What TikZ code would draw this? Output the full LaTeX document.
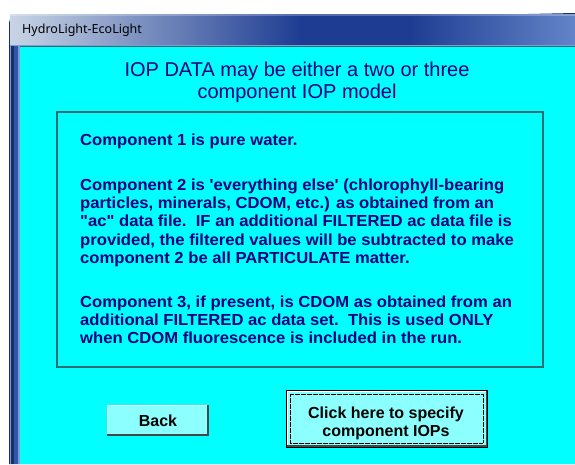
\documentclass[tikz,border=0pt]{standalone}
\usepackage{fontspec}
\setmainfont{Liberation Sans}
\newfontfamily\uifont{Noto Sans}
\newfontfamily\dlgfont[FakeStretch=1.04]{Liberation Sans}
\newcommand{\sq}{\symbol{39}}
\newcommand{\dq}{\symbol{34}}
\definecolor{clientcyan}{HTML}{00FFFF}
\definecolor{navytext}{HTML}{000080}
\definecolor{boxline}{HTML}{2E6E70}
\definecolor{btnfill}{HTML}{8CFFFF}
\definecolor{btnshadow}{HTML}{404848}
\definecolor{framedark}{HTML}{1A2F6A}
\definecolor{framemid}{HTML}{2F56A8}
\definecolor{framelight}{HTML}{7E9CD6}
\definecolor{titlelight}{HTML}{C9D5E6}
\definecolor{titledark}{HTML}{1E3D92}
\definecolor{titleright}{HTML}{6384C8}
\tikzset{
  heading/.style={font=\fontsize{20}{24}\selectfont, text=navytext, anchor=base, inner sep=0pt},
  bodyline/.style={font=\dlgfont\bfseries\fontsize{16}{19}\selectfont, text=navytext, anchor=base west, inner sep=0pt},
  btnlabel/.style={font=\bfseries\fontsize{16}{19}\selectfont, text=black, anchor=base, inner sep=0pt},
}
\begin{document}
\begin{tikzpicture}[x=1pt,y=-1pt]
\useasboundingbox (0,0) rectangle (575,464);
\fill[white] (0,0) rectangle (575,464);

% window frame with rounded top-left corner
\fill[framedark] (9,464) -- (9,19) arc[start angle=180,end angle=90,radius=6] -- (575,13) -- (575,464) -- cycle;
% title bar glass gradient
\shade[left color=titlelight, right color=titledark] (10,14) rectangle (300,46);
\fill[titledark] (299.5,14) rectangle (410.5,46);
\shade[left color=titledark, right color=titleright] (410,14) rectangle (575,46);
\fill[white,opacity=0.25] (10,14) rectangle (575,15.5);
\fill[framelight] (10,44.5) rectangle (575,46);
% left border stripes
\fill[framelight] (10,46) rectangle (11,464);
\fill[framedark] (11,46) rectangle (14,464);
\fill[framemid] (14,46) rectangle (18,464);
\fill[framelight] (18,46) rectangle (20,464);
% client area
\fill[clientcyan] (20,47) rectangle (575,464);
\draw[boxline,line width=0.8pt] (20,46.6) -- (575,46.6);

\node[font=\uifont\fontsize{12.5}{14}\selectfont, text=black, anchor=base west, inner sep=0pt] (wintitle) at (22,33.5) {HydroLight-EcoLight};

% heading
\node[heading] (head1) at (297,76) {IOP DATA may be either a two or three};
\node[heading] (head2) at (297,98) {component IOP model};

% framed explanation
\draw[boxline,line width=1.3pt] (57,112) rectangle (543,367);
\node[bodyline] (c1a) at (80,145) {Component 1 is pure water.};
\node[bodyline] (c2a) at (80,190.5) {Component 2 is \sq everything else\sq{} (chlorophyll-bearing};
\node[bodyline] (c2b) at (80,208.7) {particles, minerals, CDOM, etc.) as obtained from an};
\node[bodyline] (c2c) at (80,226.9) {\dq ac\dq{} data file.\ \ IF an additional FILTERED ac data file is};
\node[bodyline] (c2d) at (80,245.1) {provided, the filtered values will be subtracted to make};
\node[bodyline] (c2e) at (80,263.3) {component 2 be all PARTICULATE matter.};
\node[bodyline] (c3a) at (80,307.5) {Component 3, if present, is CDOM as obtained from an};
\node[bodyline] (c3b) at (80,325.7) {additional FILTERED ac data set.\ \ This is used ONLY};
\node[bodyline] (c3c) at (80,343.9) {when CDOM fluorescence is included in the run.};

% Back button
\fill[btnfill] (107,405) rectangle (209,436);
\draw[white,line width=1pt] (107.5,435.5) -- (107.5,405.5) -- (208.5,405.5);
\draw[btnshadow,line width=1.6pt] (107,435.2) -- (208.2,435.2) -- (208.2,405);
\node[btnlabel] (back) at (158,426.5) {Back};

% default button
\fill[btnfill] (286,390) rectangle (488,448);
\draw[black,line width=1pt] (286.5,390.5) rectangle (487.5,447.5);
\draw[white,line width=0.8pt] (287.5,446.5) -- (287.5,391.5) -- (486.5,391.5);
\draw[btnshadow,line width=1.4pt] (287,446) -- (486.5,446) -- (486.5,391);
\draw[black,line width=0.5pt,dash pattern=on 0.6pt off 0.6pt] (290,394) rectangle (483,443);
\node[btnlabel] (specify1) at (386,418) {Click here to specify};
\node[btnlabel] (specify2) at (386,436) {component IOPs};
\end{tikzpicture}
\end{document}
